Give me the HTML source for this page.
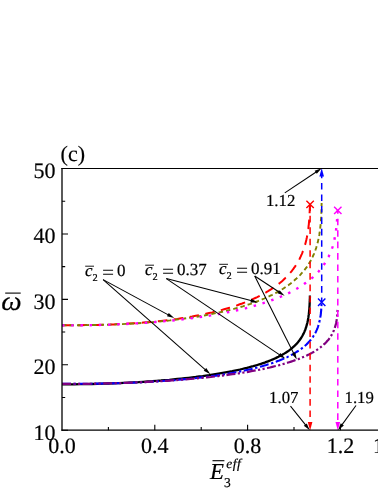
<!DOCTYPE html>
<html><head><meta charset="utf-8"><style>
html,body{margin:0;padding:0;background:#fff;}
body{width:378px;height:489px;overflow:hidden;position:relative}
svg{position:absolute;left:0;top:0;}
text{stroke:#000;stroke-width:0.2px}
svg{font-family:"Liberation Serif",serif;fill:#000;text-rendering:geometricPrecision;will-change:transform}
</style></head><body>
<svg width="378" height="489" viewBox="0 0 378 489">
<path d="M62.00,430.20 h6 M62.00,364.77 h6 M62.00,299.35 h6 M62.00,233.93 h6 M62.00,168.50 h6 M62.00,397.49 h3.2 M62.00,332.06 h3.2 M62.00,266.64 h3.2 M62.00,201.21 h3.2 M154.80,430.20 v-5.5 M247.60,430.20 v-5.5 M340.40,430.20 v-5.5 M108.40,430.20 v-3.2 M201.20,430.20 v-3.2 M294.00,430.20 v-3.2" stroke="#000" stroke-width="1.1" fill="none"/>
<path d="M62.0,325.2 L68.2,325.2 L74.2,325.2 L80.2,325.2 L86.0,325.1 L91.8,325.0 L97.4,324.9 L102.9,324.7 L108.3,324.6 L113.6,324.4 L118.8,324.1 L123.9,323.9 L128.8,323.6 L133.7,323.3 L138.5,323.0 L143.2,322.6 L147.8,322.2 L152.3,321.8 L156.7,321.4 L161.0,320.9 L165.2,320.4 L169.3,319.9 L173.4,319.4 L177.3,318.9 L181.2,318.3 L184.9,317.7 L188.6,317.1 L192.2,316.5 L195.8,315.8 L199.2,315.2 L202.6,314.5 L205.9,313.8 L209.1,313.1 L212.3,312.4 L215.3,311.6 L218.3,310.9 L221.2,310.1 L224.1,309.3 L226.9,308.5 L229.6,307.7 L232.3,306.9 L234.8,306.0 L237.4,305.2 L239.8,304.3 L242.2,303.5 L244.5,302.6 L246.8,301.7 L249.0,300.8 L251.2,299.9 L253.3,298.9 L255.3,298.0 L257.3,297.1 L259.2,296.1 L261.1,295.1 L262.9,294.2 L264.7,293.2 L266.4,292.2 L268.1,291.2 L269.7,290.2 L271.3,289.2 L272.8,288.2 L274.3,287.1 L275.7,286.1 L277.1,285.1 L278.5,284.0 L279.8,283.0 L281.1,281.9 L282.3,280.9 L283.5,279.8 L284.6,278.7 L285.7,277.6 L286.8,276.6 L287.9,275.5 L288.9,274.4 L289.8,273.3 L290.8,272.2 L291.7,271.1 L292.5,270.0 L293.4,268.8 L294.2,267.7 L295.0,266.6 L295.7,265.5 L296.5,264.4 L297.1,263.2 L297.8,262.1 L298.5,261.0 L299.1,259.8 L299.7,258.7 L300.2,257.5 L300.8,256.4 L301.3,255.2 L301.8,254.1 L302.3,252.9 L302.7,251.7 L303.2,250.6 L303.6,249.4 L304.0,248.3 L304.4,247.1 L304.7,245.9 L305.1,244.8 L305.4,243.6 L305.7,242.4 L306.0,241.2 L306.3,240.0 L306.5,238.9 L306.8,237.7 L307.0,236.5 L307.3,235.3 L307.5,234.1 L307.7,232.9 L307.9,231.8 L308.0,230.6 L308.2,229.4 L308.4,228.2 L308.5,227.0 L308.6,225.8 L308.8,224.6 L308.9,223.4 L309.0,222.2 L309.1,221.0 L309.2,219.8 L309.3,218.6 L309.4,217.4 L309.4,216.2 L309.5,215.0 L309.6,213.8 L309.6,212.6 L309.7,211.4 L309.7,210.2 L309.8,209.0 L309.8,207.8 L309.9,206.6 L309.9,205.3 L309.9,204.4" stroke="#ff0000" stroke-width="2.0" fill="none" stroke-dasharray="9.5 6.5"/>
<path d="M62.0,325.3 L68.5,325.3 L74.8,325.3 L81.1,325.2 L87.2,325.1 L93.2,325.0 L99.0,324.9 L104.8,324.8 L110.5,324.6 L116.0,324.4 L121.4,324.1 L126.7,323.9 L132.0,323.6 L137.1,323.2 L142.1,322.9 L147.0,322.5 L151.8,322.2 L156.5,321.7 L161.1,321.3 L165.6,320.8 L170.0,320.4 L174.3,319.9 L178.6,319.3 L182.7,318.8 L186.7,318.2 L190.7,317.7 L194.6,317.1 L198.3,316.5 L202.0,315.8 L205.6,315.2 L209.2,314.5 L212.6,313.8 L216.0,313.1 L219.3,312.4 L222.5,311.7 L225.6,311.0 L228.7,310.2 L231.7,309.5 L234.6,308.7 L237.4,307.9 L240.2,307.1 L242.9,306.3 L245.6,305.4 L248.1,304.6 L250.6,303.8 L253.1,302.9 L255.4,302.0 L257.8,301.2 L260.0,300.3 L262.2,299.4 L264.3,298.5 L266.4,297.5 L268.4,296.6 L270.4,295.7 L272.3,294.8 L274.2,293.8 L276.0,292.8 L277.7,291.9 L279.4,290.9 L281.1,289.9 L282.7,289.0 L284.2,288.0 L285.7,287.0 L287.2,286.0 L288.6,285.0 L290.0,283.9 L291.3,282.9 L292.6,281.9 L293.8,280.9 L295.0,279.8 L296.2,278.8 L297.3,277.7 L298.4,276.7 L299.5,275.6 L300.5,274.6 L301.5,273.5 L302.4,272.4 L303.3,271.4 L304.2,270.3 L305.1,269.2 L305.9,268.1 L306.7,267.1 L307.4,266.0 L308.1,264.9 L308.8,263.8 L309.5,262.7 L310.2,261.6 L310.8,260.5 L311.4,259.4 L311.9,258.2 L312.5,257.1 L313.0,256.0 L313.5,254.9 L314.0,253.8 L314.4,252.6 L314.9,251.5 L315.3,250.4 L315.7,249.3 L316.1,248.1 L316.4,247.0 L316.8,245.9 L317.1,244.7 L317.4,243.6 L317.7,242.4 L318.0,241.3 L318.2,240.1 L318.5,239.0 L318.7,237.8 L319.0,236.7 L319.2,235.5 L319.4,234.4 L319.5,233.2 L319.7,232.1 L319.9,230.9 L320.0,229.7 L320.2,228.6 L320.3,227.4 L320.4,226.2 L320.6,225.1 L320.7,223.9 L320.8,222.7 L320.9,221.6 L320.9,220.4 L321.0,219.2 L321.1,218.0 L321.2,216.8 L321.2,215.7 L321.3,214.5 L321.3,213.3 L321.4,212.1 L321.4,210.9 L321.5,209.7 L321.5,208.5 L321.5,207.3 L321.5,206.2 L321.6,205.0 L321.6,203.8 L321.6,203.0" stroke="#808000" stroke-width="1.9" fill="none" stroke-dasharray="4.5 3"/>
<path d="M62.0,325.4 L68.9,325.4 L75.6,325.4 L82.2,325.3 L88.7,325.2 L95.1,325.1 L101.3,324.9 L107.5,324.7 L113.5,324.5 L119.3,324.3 L125.1,324.0 L130.8,323.7 L136.3,323.4 L141.7,323.0 L147.0,322.7 L152.3,322.3 L157.4,321.9 L162.3,321.4 L167.2,321.0 L172.0,320.5 L176.7,320.0 L181.3,319.5 L185.8,318.9 L190.2,318.4 L194.5,317.8 L198.7,317.2 L202.8,316.6 L206.8,316.0 L210.7,315.4 L214.6,314.7 L218.3,314.1 L222.0,313.4 L225.5,312.7 L229.0,312.0 L232.4,311.3 L235.8,310.5 L239.0,309.8 L242.2,309.0 L245.3,308.3 L248.3,307.5 L251.3,306.7 L254.1,305.9 L256.9,305.1 L259.7,304.3 L262.3,303.4 L264.9,302.6 L267.4,301.8 L269.9,300.9 L272.3,300.0 L274.6,299.2 L276.9,298.3 L279.1,297.4 L281.2,296.5 L283.3,295.6 L285.3,294.7 L287.3,293.7 L289.2,292.8 L291.1,291.9 L292.9,290.9 L294.6,290.0 L296.3,289.0 L298.0,288.0 L299.6,287.1 L301.1,286.1 L302.7,285.1 L304.1,284.1 L305.5,283.1 L306.9,282.1 L308.2,281.1 L309.5,280.1 L310.7,279.1 L311.9,278.1 L313.1,277.1 L314.2,276.0 L315.3,275.0 L316.3,274.0 L317.3,272.9 L318.3,271.9 L319.2,270.8 L320.1,269.7 L321.0,268.7 L321.8,267.6 L322.6,266.5 L323.4,265.5 L324.1,264.4 L324.9,263.3 L325.5,262.2 L326.2,261.1 L326.8,260.0 L327.4,258.9 L328.0,257.8 L328.6,256.7 L329.1,255.6 L329.6,254.5 L330.1,253.4 L330.6,252.3 L331.0,251.1 L331.4,250.0 L331.8,248.9 L332.2,247.8 L332.6,246.6 L332.9,245.5 L333.2,244.3 L333.6,243.2 L333.9,242.0 L334.1,240.9 L334.4,239.7 L334.6,238.5 L334.9,237.4 L335.1,236.2 L335.3,235.0 L335.5,233.9 L335.7,232.7 L335.9,231.5 L336.0,230.3 L336.2,229.1 L336.3,227.9 L336.5,226.7 L336.6,225.5 L336.7,224.3 L336.8,223.1 L336.9,221.9 L337.0,220.7 L337.1,219.4 L337.2,218.2 L337.2,217.0 L337.3,215.7 L337.3,214.5 L337.4,213.2 L337.5,212.0 L337.5,210.7 L337.5,210.4" stroke="#ff00ff" stroke-width="2.4" fill="none" stroke-dasharray="2.5 6.7"/>
<path d="M62.0,384.3 L68.2,384.3 L74.2,384.3 L80.2,384.2 L86.0,384.1 L91.8,384.0 L97.4,383.8 L102.9,383.7 L108.3,383.5 L113.6,383.3 L118.8,383.1 L123.9,382.9 L128.8,382.6 L133.7,382.3 L138.5,382.1 L143.2,381.8 L147.8,381.5 L152.3,381.2 L156.7,380.8 L161.0,380.5 L165.2,380.1 L169.3,379.8 L173.4,379.4 L177.3,379.0 L181.2,378.6 L184.9,378.2 L188.6,377.8 L192.2,377.4 L195.8,377.0 L199.2,376.5 L202.6,376.1 L205.9,375.6 L209.1,375.2 L212.3,374.7 L215.3,374.2 L218.3,373.7 L221.2,373.2 L224.1,372.7 L226.9,372.2 L229.6,371.7 L232.3,371.2 L234.8,370.6 L237.4,370.1 L239.8,369.6 L242.2,369.0 L244.5,368.4 L246.8,367.9 L249.0,367.3 L251.2,366.7 L253.3,366.2 L255.3,365.6 L257.3,365.0 L259.2,364.4 L261.1,363.8 L262.9,363.2 L264.7,362.6 L266.4,361.9 L268.1,361.3 L269.7,360.7 L271.3,360.0 L272.8,359.4 L274.3,358.7 L275.7,358.1 L277.1,357.4 L278.5,356.8 L279.8,356.1 L281.1,355.4 L282.3,354.7 L283.5,354.1 L284.6,353.4 L285.7,352.7 L286.8,352.0 L287.9,351.3 L288.9,350.6 L289.8,349.8 L290.8,349.1 L291.7,348.4 L292.5,347.7 L293.4,346.9 L294.2,346.2 L295.0,345.4 L295.7,344.7 L296.5,343.9 L297.1,343.2 L297.8,342.4 L298.5,341.6 L299.1,340.8 L299.7,340.0 L300.2,339.3 L300.8,338.5 L301.3,337.7 L301.8,336.8 L302.3,336.0 L302.7,335.2 L303.2,334.4 L303.6,333.6 L304.0,332.7 L304.4,331.9 L304.7,331.0 L305.1,330.2 L305.4,329.3 L305.7,328.4 L306.0,327.5 L306.3,326.7 L306.5,325.8 L306.8,324.9 L307.0,324.0 L307.3,323.1 L307.5,322.1 L307.7,321.2 L307.9,320.3 L308.0,319.3 L308.2,318.4 L308.4,317.4 L308.5,316.4 L308.6,315.4 L308.8,314.4 L308.9,313.4 L309.0,312.4 L309.1,311.4 L309.2,310.4 L309.3,309.3 L309.4,308.3 L309.4,307.2 L309.5,306.1 L309.6,305.0 L309.6,303.9 L309.7,302.8 L309.7,301.6 L309.8,300.5 L309.8,299.3 L309.9,298.1 L309.9,296.9 L309.9,295.7 L309.9,295.5" stroke="#000" stroke-width="2.3" fill="none"/>
<path d="M62.0,383.9 L68.5,383.9 L74.8,383.9 L81.1,383.8 L87.2,383.8 L93.2,383.7 L99.0,383.6 L104.8,383.5 L110.5,383.4 L116.0,383.2 L121.4,383.1 L126.7,382.9 L132.0,382.7 L137.1,382.5 L142.1,382.2 L147.0,382.0 L151.8,381.7 L156.5,381.4 L161.1,381.1 L165.6,380.8 L170.0,380.5 L174.3,380.2 L178.6,379.8 L182.7,379.4 L186.7,379.0 L190.7,378.7 L194.6,378.2 L198.3,377.8 L202.0,377.4 L205.6,377.0 L209.2,376.5 L212.6,376.0 L216.0,375.6 L219.3,375.1 L222.5,374.6 L225.6,374.1 L228.7,373.6 L231.7,373.1 L234.6,372.5 L237.4,372.0 L240.2,371.4 L242.9,370.9 L245.6,370.3 L248.1,369.8 L250.6,369.2 L253.1,368.6 L255.4,368.0 L257.8,367.4 L260.0,366.8 L262.2,366.2 L264.3,365.6 L266.4,365.0 L268.4,364.3 L270.4,363.7 L272.3,363.1 L274.2,362.4 L276.0,361.8 L277.7,361.1 L279.4,360.5 L281.1,359.8 L282.7,359.1 L284.2,358.5 L285.7,357.8 L287.2,357.1 L288.6,356.4 L290.0,355.7 L291.3,355.0 L292.6,354.3 L293.8,353.6 L295.0,352.9 L296.2,352.2 L297.3,351.5 L298.4,350.8 L299.5,350.1 L300.5,349.4 L301.5,348.7 L302.4,347.9 L303.3,347.2 L304.2,346.5 L305.1,345.7 L305.9,345.0 L306.7,344.3 L307.4,343.5 L308.1,342.8 L308.8,342.0 L309.5,341.3 L310.2,340.5 L310.8,339.8 L311.4,339.0 L311.9,338.3 L312.5,337.5 L313.0,336.8 L313.5,336.0 L314.0,335.3 L314.4,334.5 L314.9,333.7 L315.3,333.0 L315.7,332.2 L316.1,331.4 L316.4,330.6 L316.8,329.9 L317.1,329.1 L317.4,328.3 L317.7,327.6 L318.0,326.8 L318.2,326.0 L318.5,325.2 L318.7,324.4 L319.0,323.6 L319.2,322.9 L319.4,322.1 L319.5,321.3 L319.7,320.5 L319.9,319.7 L320.0,318.9 L320.2,318.1 L320.3,317.3 L320.4,316.5 L320.6,315.8 L320.7,315.0 L320.8,314.2 L320.9,313.4 L320.9,312.6 L321.0,311.8 L321.1,311.0 L321.2,310.2 L321.2,309.4 L321.3,308.5 L321.3,307.7 L321.4,306.9 L321.4,306.1 L321.5,305.3 L321.5,304.5 L321.5,303.7 L321.5,302.9 L321.6,302.3" stroke="#0000ff" stroke-width="2.1" fill="none" stroke-dasharray="9 2.6 2.4 2.6"/>
<path d="M62.0,383.9 L68.9,383.9 L75.6,383.9 L82.2,383.8 L88.7,383.8 L95.1,383.7 L101.3,383.5 L107.5,383.4 L113.5,383.2 L119.3,383.1 L125.1,382.9 L130.8,382.7 L136.3,382.4 L141.7,382.2 L147.0,381.9 L152.3,381.7 L157.4,381.4 L162.3,381.1 L167.2,380.8 L172.0,380.4 L176.7,380.1 L181.3,379.7 L185.8,379.4 L190.2,379.0 L194.5,378.6 L198.7,378.2 L202.8,377.8 L206.8,377.4 L210.7,377.0 L214.6,376.5 L218.3,376.1 L222.0,375.6 L225.5,375.2 L229.0,374.7 L232.4,374.2 L235.8,373.8 L239.0,373.3 L242.2,372.8 L245.3,372.3 L248.3,371.8 L251.3,371.2 L254.1,370.7 L256.9,370.2 L259.7,369.7 L262.3,369.1 L264.9,368.6 L267.4,368.0 L269.9,367.5 L272.3,366.9 L274.6,366.3 L276.9,365.8 L279.1,365.2 L281.2,364.6 L283.3,364.0 L285.3,363.4 L287.3,362.8 L289.2,362.2 L291.1,361.6 L292.9,361.0 L294.6,360.4 L296.3,359.8 L298.0,359.2 L299.6,358.6 L301.1,358.0 L302.7,357.3 L304.1,356.7 L305.5,356.1 L306.9,355.4 L308.2,354.8 L309.5,354.2 L310.7,353.5 L311.9,352.9 L313.1,352.2 L314.2,351.6 L315.3,350.9 L316.3,350.3 L317.3,349.6 L318.3,348.9 L319.2,348.3 L320.1,347.6 L321.0,346.9 L321.8,346.3 L322.6,345.6 L323.4,344.9 L324.1,344.2 L324.9,343.6 L325.5,342.9 L326.2,342.2 L326.8,341.5 L327.4,340.8 L328.0,340.2 L328.6,339.5 L329.1,338.8 L329.6,338.1 L330.1,337.4 L330.6,336.7 L331.0,336.0 L331.4,335.3 L331.8,334.6 L332.2,333.9 L332.6,333.2 L332.9,332.5 L333.2,331.8 L333.6,331.1 L333.9,330.4 L334.1,329.7 L334.4,329.0 L334.6,328.3 L334.9,327.5 L335.1,326.8 L335.3,326.1 L335.5,325.4 L335.7,324.7 L335.9,324.0 L336.0,323.2 L336.2,322.5 L336.3,321.8 L336.5,321.1 L336.6,320.3 L336.7,319.6 L336.8,318.9 L336.9,318.1 L337.0,317.4 L337.1,316.7 L337.2,315.9 L337.2,315.2 L337.3,314.5 L337.3,313.7 L337.4,313.0 L337.5,312.2 L337.5,311.5 L337.5,310.7 L337.6,310.0 L337.6,309.7" stroke="#800080" stroke-width="2.2" fill="none" stroke-dasharray="9 2.4 2.2 2.4 2.2 2.4"/>
<line x1="310.10" y1="204.40" x2="310.10" y2="422.90" stroke="#ff0000" stroke-width="1.5" stroke-dasharray="6.6 4.85" stroke-dashoffset="0"/><polygon points="310.10,430.50 307.80,421.90 312.40,421.90" fill="#ff0000"/>
<line x1="321.70" y1="302.30" x2="321.70" y2="175.50" stroke="#0000ff" stroke-width="1.5" stroke-dasharray="6.6 4.85" stroke-dashoffset="1.8"/><polygon points="321.70,167.90 324.00,176.50 319.40,176.50" fill="#0000ff"/>
<line x1="337.80" y1="210.40" x2="337.80" y2="422.90" stroke="#ff00ff" stroke-width="1.5" stroke-dasharray="6.6 4.85" stroke-dashoffset="3.15"/><polygon points="337.80,430.50 335.50,421.90 340.10,421.90" fill="#ff00ff"/>
<path d="M306.40,200.70 L313.80,208.10 M306.40,208.10 L313.80,200.70" stroke="#ff0000" stroke-width="1.4" fill="none"/>
<path d="M318.00,298.60 L325.40,306.00 M318.00,306.00 L325.40,298.60" stroke="#0000ff" stroke-width="1.4" fill="none"/>
<path d="M334.10,206.70 L341.50,214.10 M334.10,214.10 L341.50,206.70" stroke="#ff00ff" stroke-width="1.4" fill="none"/>
<path d="M62.00,168.00 V430.85" stroke="#000" stroke-width="1.3" fill="none"/>
<path d="M61.35,168.50 H400" stroke="#000" stroke-width="1.0" fill="none"/>
<path d="M61.35,430.20 H400" stroke="#000" stroke-width="1.3" fill="none"/>
<line x1="103.10" y1="279.60" x2="168.75" y2="315.15" stroke="#000" stroke-width="1.05"/><polygon points="174.20,318.10 166.96,316.34 168.77,313.00" fill="#000"/>
<line x1="103.10" y1="279.60" x2="205.75" y2="370.10" stroke="#000" stroke-width="1.05"/><polygon points="210.40,374.20 203.74,370.86 206.26,368.01" fill="#000"/>
<line x1="166.30" y1="278.60" x2="251.80" y2="300.84" stroke="#000" stroke-width="1.05"/><polygon points="257.80,302.40 250.35,302.43 251.31,298.75" fill="#000"/>
<line x1="166.30" y1="278.60" x2="280.06" y2="355.14" stroke="#000" stroke-width="1.05"/><polygon points="285.20,358.60 278.17,356.16 280.29,353.00" fill="#000"/>
<line x1="254.70" y1="276.00" x2="279.42" y2="292.29" stroke="#000" stroke-width="1.05"/><polygon points="284.60,295.70 277.54,293.33 279.63,290.15" fill="#000"/>
<line x1="254.70" y1="276.00" x2="294.01" y2="354.06" stroke="#000" stroke-width="1.05"/><polygon points="296.80,359.60 291.86,354.02 295.26,352.31" fill="#000"/>
<line x1="284.80" y1="192.90" x2="316.54" y2="171.74" stroke="#000" stroke-width="1.05"/><polygon points="321.70,168.30 316.76,173.87 314.66,170.71" fill="#000"/>
<line x1="290.50" y1="406.10" x2="305.92" y2="425.36" stroke="#000" stroke-width="1.05"/><polygon points="309.80,430.20 303.82,425.77 306.78,423.39" fill="#000"/>
<line x1="356.00" y1="405.50" x2="341.74" y2="425.18" stroke="#000" stroke-width="1.05"/><polygon points="338.10,430.20 340.79,423.26 343.86,425.48" fill="#000"/>
<text x="60.60" y="160.90" font-size="22" text-anchor="start">(c)</text>
<text x="55.60" y="439.60" font-size="22" text-anchor="end">10</text>
<text x="55.60" y="374.17" font-size="22" text-anchor="end">20</text>
<text x="55.60" y="308.75" font-size="22" text-anchor="end">30</text>
<text x="55.60" y="243.33" font-size="22" text-anchor="end">40</text>
<text x="55.60" y="177.90" font-size="22" text-anchor="end">50</text>
<text x="62.00" y="452.70" font-size="22" text-anchor="middle">0.0</text>
<text x="154.80" y="452.70" font-size="22" text-anchor="middle">0.4</text>
<text x="247.60" y="452.70" font-size="22" text-anchor="middle">0.8</text>
<text x="340.40" y="452.70" font-size="22" text-anchor="middle">1.2</text>
<text x="386.80" y="452.70" font-size="22" text-anchor="middle">1.4</text>
<text x="265.92" y="205.90" font-size="16.8" text-anchor="start">1.12</text>
<text x="269.12" y="402.50" font-size="16.8" text-anchor="start">1.07</text>
<text x="344.52" y="402.50" font-size="16.8" text-anchor="start">1.19</text>
<text x="85.07" y="276.10" font-size="17" text-anchor="start" font-style="italic">c</text><line x1="85.20" y1="266.20" x2="94.00" y2="266.20" stroke="#000" stroke-width="0.9"/><text x="92.54" y="280.60" font-size="10.4" text-anchor="start">2</text><text transform="translate(102.02,278.70) scale(1.265,1.18)" font-size="17" style="stroke-width:0">=</text><text x="116.95" y="276.10" font-size="17" text-anchor="start">0</text>
<text x="145.07" y="275.10" font-size="17" text-anchor="start" font-style="italic">c</text><line x1="145.20" y1="265.20" x2="154.00" y2="265.20" stroke="#000" stroke-width="0.9"/><text x="152.54" y="279.60" font-size="10.4" text-anchor="start">2</text><text transform="translate(162.02,277.70) scale(1.265,1.18)" font-size="17" style="stroke-width:0">=</text><text x="176.95" y="275.10" font-size="17" text-anchor="start">0.37</text>
<text x="219.07" y="274.20" font-size="17" text-anchor="start" font-style="italic">c</text><line x1="219.20" y1="264.30" x2="228.00" y2="264.30" stroke="#000" stroke-width="0.9"/><text x="226.54" y="278.70" font-size="10.4" text-anchor="start">2</text><text transform="translate(236.02,276.80) scale(1.265,1.18)" font-size="17" style="stroke-width:0">=</text><text x="250.95" y="274.20" font-size="17" text-anchor="start">0.91</text>
<text transform="translate(1.25,309.7) scale(1.07,1)" font-size="27" font-style="italic">ω</text>
<line x1="5.2" y1="293.1" x2="20.7" y2="293.1" stroke="#000" stroke-width="1.1"/>
<text x="210.07" y="478.70" font-size="22.8" text-anchor="start" font-style="italic">E</text>
<line x1="212.5" y1="460.7" x2="224.4" y2="460.7" stroke="#000" stroke-width="1.1"/>
<text x="223.90" y="486.50" font-size="13.5" text-anchor="start">3</text>
<text x="226.20" y="468.20" font-size="13.5" text-anchor="start" font-style="italic" letter-spacing="0.5">eff</text>
</svg>
</body></html>
